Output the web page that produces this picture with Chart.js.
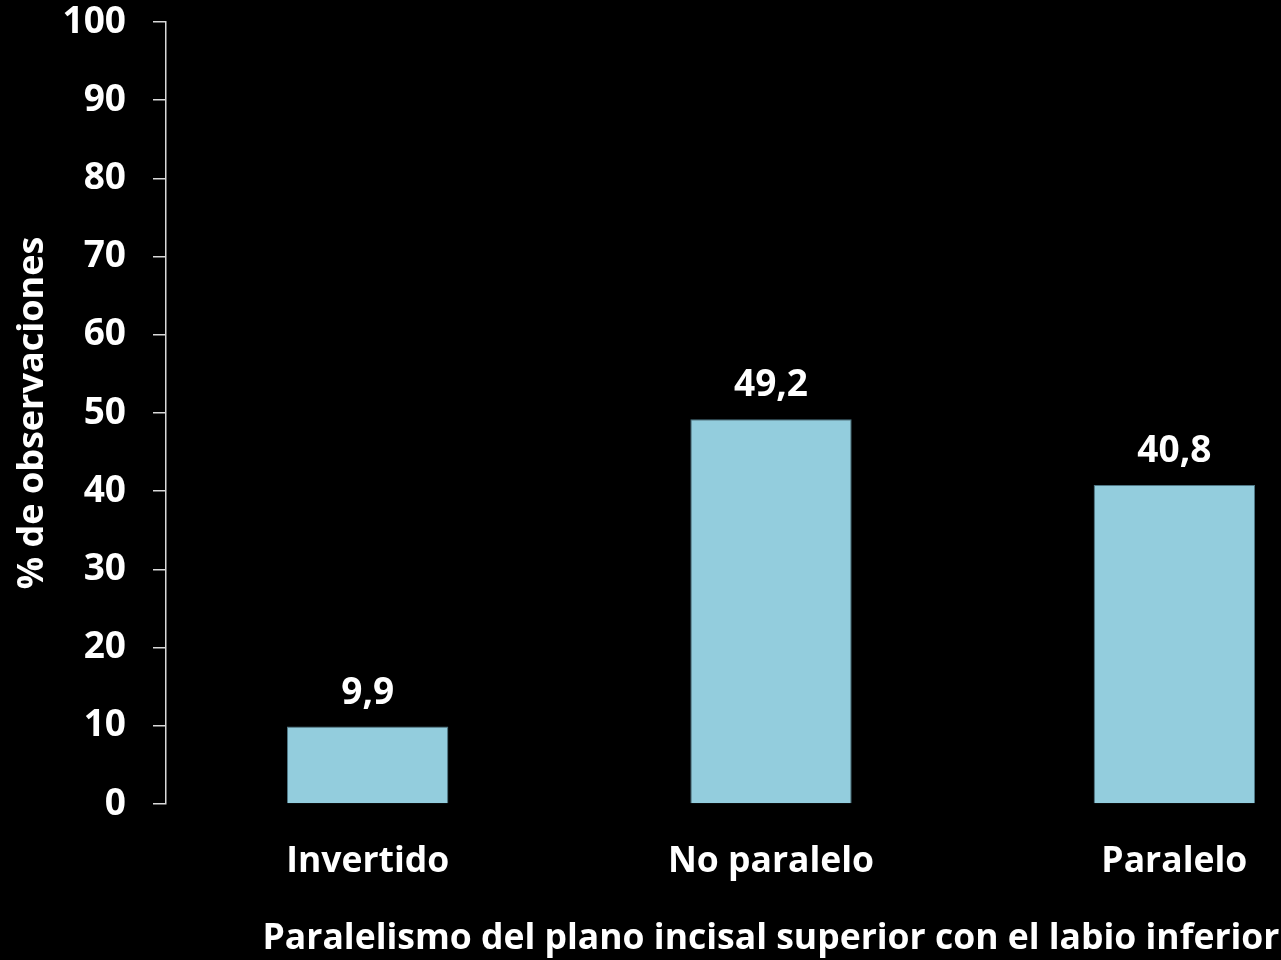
<!DOCTYPE html>
<html>
<head>
<meta charset="utf-8">
<script src="https://cdn.jsdelivr.net/npm/chart.js@4.4.0/dist/chart.umd.min.js"></script>
<style>
  html, body { margin: 0; padding: 0; background: #000; overflow: hidden; }
  #wrap { width: 1376px; height: 960px; }
</style>
</head>
<body>
<div id="wrap"><canvas id="BarChart" width="1376" height="960"></canvas></div>
<script>
const categories = ['Invertido', 'No paralelo', 'Paralelo'];
const percentValues = [9.9, 49.2, 40.8];
const yTicks = [0, 10, 20, 30, 40, 50, 60, 70, 80, 90, 100];

const FONT = '"Open Sans", sans-serif';
const AXIS_COLOR = '#d9d9d9';

// draws the value above each bar, comma as decimal mark
const barValueLabels = {
  id: 'barValueLabels',
  afterDatasetsDraw(chart) {
    const ctx = chart.ctx;
    const meta = chart.getDatasetMeta(0);
    ctx.save();
    ctx.fillStyle = '#fff';
    ctx.font = 'bold 37px ' + FONT;
    ctx.textAlign = 'center';
    ctx.textBaseline = 'alphabetic';
    meta.data.forEach((bar, i) => {
      const txt = percentValues[i].toFixed(1).replace('.', ',');
      ctx.fillText(txt, bar.x, bar.y - 23);
    });
    ctx.restore();
  }
};

const ctx = document.getElementById('BarChart').getContext('2d');
const barChart = new Chart(ctx, {
  type: 'bar',
  data: {
    labels: categories,
    datasets: [{
      data: percentValues,
      backgroundColor: '#93cddd',
      borderColor: '#4f7785',
      borderWidth: 1,
      categoryPercentage: 1,
      barPercentage: 0.4
    }]
  },
  options: {
    responsive: false,
    animation: false,
    layout: { padding: { top: 22, right: 0, left: 0, bottom: 0 } },
    plugins: { legend: { display: false }, tooltip: { enabled: false } },
    scales: {
      x: {
        grid: { display: false, drawTicks: false },
        border: { display: false },
        ticks: { color: '#fff', font: { family: FONT, size: 35.5, weight: 'bold' }, padding: 37 },
        title: {
          display: true,
          text: 'Paralelismo del plano incisal superior con el labio inferior',
          color: '#fff',
          font: { family: FONT, size: 35.5, weight: 'bold' },
          padding: { top: 0, bottom: 0 }
        },
        afterFit(scale) { scale.height = 156; }
      },
      y: {
        min: 0,
        max: 100,
        afterBuildTicks(scale) { scale.ticks = yTicks.map(v => ({ value: v })); },
        grid: { drawOnChartArea: false, color: AXIS_COLOR, tickLength: 13, lineWidth: 1.5 },
        border: { color: AXIS_COLOR, width: 1.5 },
        ticks: { color: '#fff', font: { family: FONT, size: 37, weight: 'bold' }, padding: 27 },
        title: {
          display: true,
          text: '% de observaciones',
          color: '#fff',
          font: { family: FONT, size: 36, weight: 'bold' },
          padding: { top: 11, bottom: 0 }
        },
        afterFit(scale) {
          scale.width = 166;
          scale.paddingTop = 0;
          scale.paddingBottom = 0;
        }
      }
    }
  },
  plugins: [barValueLabels]
});
</script>
</body>
</html>
